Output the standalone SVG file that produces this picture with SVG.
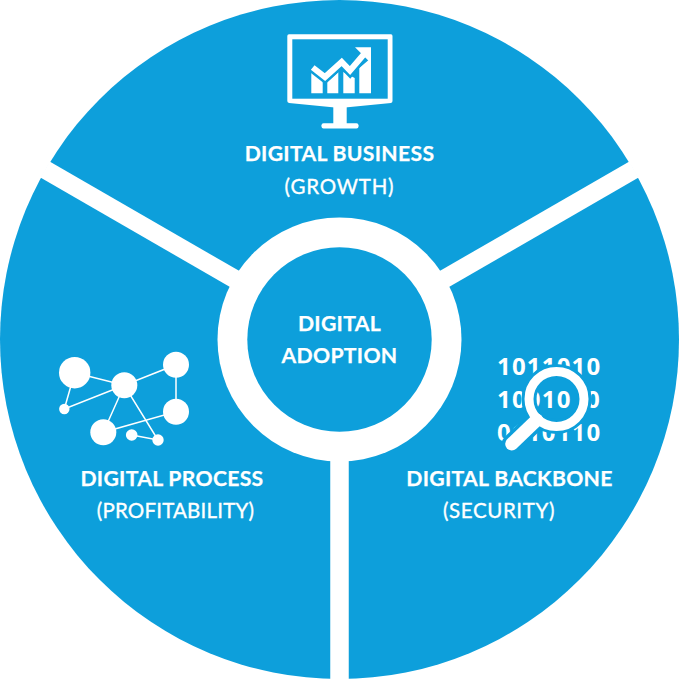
<svg xmlns="http://www.w3.org/2000/svg" width="679" height="679" viewBox="0 0 679 679">
<style>
.b{fill:#0d9fdb}
.w{fill:#fff}
.t{font-family:"Lato","Liberation Sans",sans-serif;fill:#fff;text-anchor:middle;font-size:21.2px;letter-spacing:.3px;stroke:#fff;stroke-width:.25}
.h{font-weight:700}
.n{font-weight:400;font-size:20.5px;letter-spacing:.8px;stroke-width:.35}
.d{font-family:"Open Sans","Liberation Sans",sans-serif;font-weight:700;font-size:24px;fill:#fff;letter-spacing:1.2px}
.l{stroke:#fff;stroke-width:1.5;fill:none}
.s{stroke:#fff;stroke-width:18.5;fill:none}
</style>
<rect width="679" height="679" fill="#fff"/>
<circle class="b" cx="339.5" cy="339.5" r="339.5"/>
<g id="connectors">
<path class="s" d="M339.5 339.5L339.5 680"/>
<path class="s" d="M339.5 339.5L45 169.5"/>
<path class="s" d="M339.5 339.5L634 169.5"/>
</g>
<g id="center">
<circle class="w" cx="339.5" cy="339.5" r="122"/>
<circle class="b" cx="339.5" cy="339.5" r="92.2"/>
<text class="t h" x="339.5" y="330.5">DIGITAL</text>
<text class="t h" x="339.5" y="363">ADOPTION</text>
</g>
<g id="business">
<path class="w" d="M289 34.3H391Q392.5 34.3 392.5 36V101Q392.5 102.7 391 102.9L340 108L289 102.9Q287.3 102.7 287.3 101V36Q287.3 34.3 289 34.3Z"/>
<rect class="b" x="292.3" y="39.3" width="95.4" height="59.4"/>
<rect class="w" x="333.3" y="106" width="13.4" height="19"/>
<rect class="w" x="321.5" y="123.2" width="37" height="5.2" rx="2"/>
<path class="w" d="M311.3 93.3V72L322.7 80V93.3ZM327.3 93.3V82L338.3 72V93.3ZM343.3 93.3V72L354.7 78V93.3ZM359.3 93.3V68L371 58V93.3Z"/>
<path d="M312.7 67.5L325 77L341.7 62L350 70.5L365 53" fill="none" stroke="#0d9fdb" stroke-width="11"/>
<path d="M312.7 67.5L325 77L341.7 62L350 70.5L365 53" fill="none" stroke="#fff" stroke-width="6"/>
<path class="w" d="M355 47.3H371V63.3Z"/>
<text class="t h" x="339.5" y="161">DIGITAL BUSINESS</text>
<text class="t n" x="339.5" y="193.5">(GROWTH)</text>
</g>
<g id="process">
<path class="l" d="M74.7 372.7L124.3 385.3L176 364.7V411.7L103.3 432.3L124.3 385.3L158 440L131.7 435M74.7 372.7L64.3 409L124.3 385.3"/>
<circle class="w" cx="74.7" cy="372.7" r="15.7"/>
<circle class="w" cx="124.3" cy="385.3" r="13"/>
<circle class="w" cx="176" cy="364.7" r="13"/>
<circle class="w" cx="176" cy="411.7" r="13"/>
<circle class="w" cx="103.3" cy="432.3" r="13"/>
<circle class="w" cx="64.3" cy="409" r="5.2"/>
<circle class="w" cx="131.7" cy="435" r="5.8"/>
<circle class="w" cx="158" cy="440" r="5.7"/>
<text class="t h" x="172" y="485.5">DIGITAL PROCESS</text>
<text class="t n" x="175.5" y="518" style="letter-spacing:.2px">(PROFITABILITY)</text>
</g>
<g id="backbone">
<text class="d" x="497" y="375">1011010</text>
<text class="d" x="497" y="408">10010</text>
<text class="d" x="586" y="408">0</text>
<text class="d" x="497" y="441">0110110</text>
<circle cx="556.5" cy="399" r="27.5" fill="none" stroke="#0d9fdb" stroke-width="15"/>
<path d="M511.7 444L536.7 420" stroke="#0d9fdb" stroke-width="20" stroke-linecap="round"/>
<circle cx="556.5" cy="399" r="27.5" fill="none" stroke="#fff" stroke-width="9"/>
<path d="M511.7 444L536.7 420" stroke="#fff" stroke-width="13" stroke-linecap="round"/>
<text class="t h" x="509.5" y="485.5">DIGITAL BACKBONE</text>
<text class="t n" x="499" y="518" style="letter-spacing:.6px">(SECURITY)</text>
</g>
</svg>
